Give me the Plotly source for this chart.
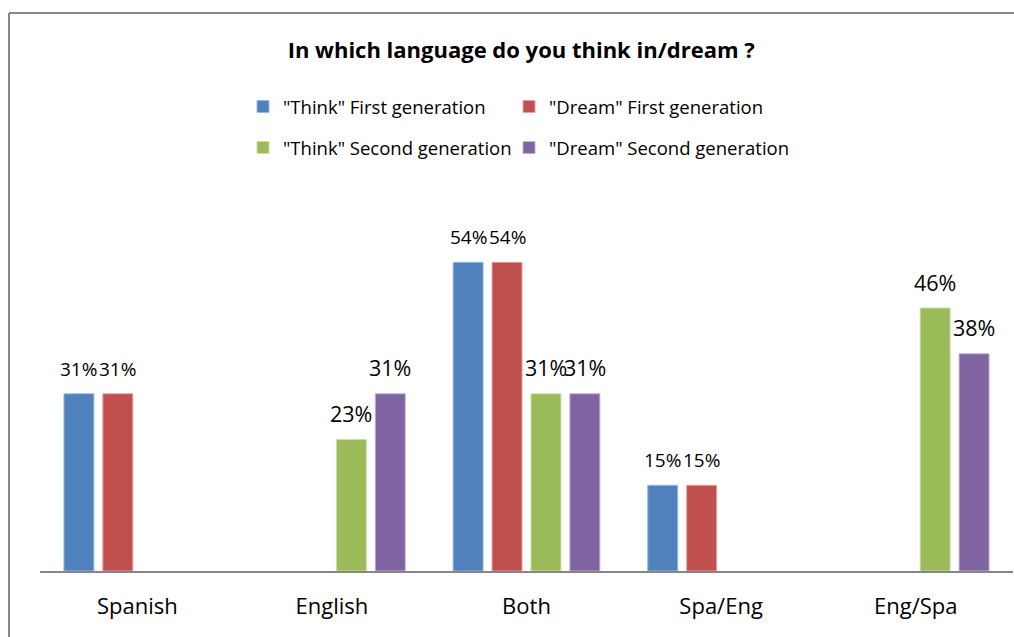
import plotly.graph_objects as go

categories = ["Spanish", "English", "Both", "Spa/Eng", "Eng/Spa"]
think_first = [31, None, 54, 15, None]
dream_first = [31, None, 54, 15, None]
think_second = [None, 23, 31, None, 46]
dream_second = [None, 31, 31, None, 38]

series_names = ["\"Think\" First generation", "\"Dream\" First generation",
                "\"Think\" Second generation", "\"Dream\" Second generation"]
series_values = [think_first, dream_first, think_second, dream_second]
colors = ["#4F81BD", "#C0504D", "#9BBB59", "#8064A2"]
edges = ["#9DB9DD", "#E0A3A2", "#CDDDAC", "#BFB1D0"]
label_sizes = [19, 19, 21.5, 21.5]
legend_ids = ["legend", "legend2", "legend3", "legend4"]

FONT = "'Open Sans', Lato, sans-serif"
BARGAP = 0.2
NSER = len(series_names)

fig = go.Figure()
annotations = []
for k in range(NSER):
    vals = series_values[k]
    fig.add_trace(go.Bar(
        name=series_names[k], x=categories, y=vals,
        marker=dict(color=colors[k], line=dict(color=edges[k], width=1)),
        legend=legend_ids[k],
    ))
    off = (k - (NSER - 1) / 2) * (1 - BARGAP) / NSER
    for i, v in enumerate(vals):
        if v is None:
            continue
        annotations.append(dict(
            x=i + off, y=v, xref="x", yref="y", text=f"{v}%",
            showarrow=False, yanchor="middle", xanchor="center",
            yshift=25 if label_sizes[k] < 20 else 26,
            font=dict(size=label_sizes[k], family=FONT, color="#000000"),
        ))

W_PLOT, L_MARG, H_PLOT, B_POS = 973, 40, 343, 571
def px_x(p):
    return (p - L_MARG) / W_PLOT
def px_y(p):
    return (B_POS - p) / H_PLOT

legend_pos = [(243, 107), (509, 107), (243, 148), (509, 148)]
legend_cfg = {}
for lid, (lx, ly) in zip(legend_ids, legend_pos):
    legend_cfg[lid] = dict(orientation="h", x=px_x(lx), y=px_y(ly),
                           xanchor="left", yanchor="middle",
                           font=dict(size=18.5, family=FONT),
                           bgcolor="rgba(0,0,0,0)")

fig.update_layout(
    width=1014, height=637,
    margin=dict(l=L_MARG, r=1, t=228, b=66),
    paper_bgcolor="white", plot_bgcolor="white",
    barmode="group", bargap=BARGAP, bargroupgap=0.23,
    font=dict(family=FONT, color="#000000"),
    title=dict(text="<b>In which language do you think in/dream ?</b>",
               x=0.514, xanchor="center", y=1 - 50 / 637, yanchor="middle",
               font=dict(size=22, family=FONT, color="#000000")),
    showlegend=True,
    **legend_cfg,
    xaxis=dict(showline=True, linecolor="#868686", linewidth=2, ticks="",
               ticklabelstandoff=15,
               tickfont=dict(size=22, family=FONT, color="#000000"), showgrid=False),
    yaxis=dict(range=[0, 60], visible=False, showgrid=False),
    annotations=annotations,
    shapes=[
        dict(type="line", xref="paper", yref="paper",
             x0=px_x(9), x1=px_x(1014), y0=px_y(13), y1=px_y(13),
             line=dict(color="#888888", width=2), layer="below"),
        dict(type="line", xref="paper", yref="paper",
             x0=px_x(9), x1=px_x(9), y0=px_y(13), y1=px_y(637),
             line=dict(color="#888888", width=2), layer="below"),
    ],
)

fig.write_html("out.html")
